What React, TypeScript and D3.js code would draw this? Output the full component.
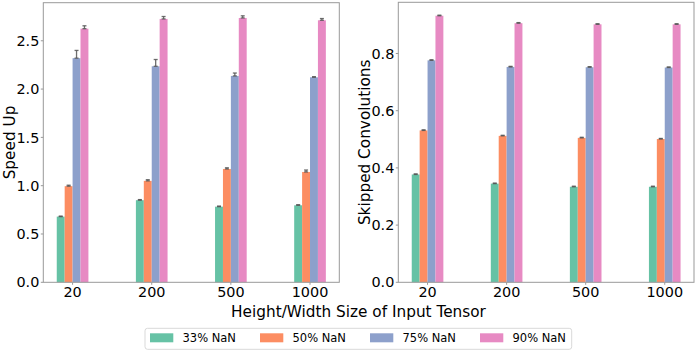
import React from "react";
import * as d3 from "d3";

const categories = ["20", "200", "500", "1000"];
const seriesNames = ["33% NaN", "50% NaN", "75% NaN", "90% NaN"];
const colors = ["#66c2a5", "#fc8d62", "#8da0cb", "#e78ac3"];

const speedUp = [
  [0.68, 0.85, 0.783, 0.797],
  [0.995, 1.05, 1.173, 1.142],
  [2.32, 2.236, 2.136, 2.122],
  [2.625, 2.726, 2.736, 2.712],
];
const speedUpErr = [
  [0.005, 0.006, 0.006, 0.006],
  [0.01, 0.012, 0.012, 0.02],
  [0.08, 0.07, 0.03, 0.006],
  [0.03, 0.025, 0.022, 0.018],
];
const skipped = [
  [0.377, 0.345, 0.334, 0.334],
  [0.531, 0.512, 0.505, 0.501],
  [0.776, 0.753, 0.752, 0.751],
  [0.932, 0.906, 0.902, 0.902],
];
const skippedErr = [
  [0.002, 0.002, 0.002, 0.002],
  [0.002, 0.002, 0.002, 0.002],
  [0.002, 0.002, 0.002, 0.002],
  [0.002, 0.002, 0.002, 0.002],
];
const speedTicks = [0, 0.5, 1.0, 1.5, 2.0, 2.5];
const skipTicks = [0, 0.2, 0.4, 0.6, 0.8];

const FONT = "DejaVu Sans, sans-serif";
const SPINE = "#999999";

type PanelProps = {
  x0: number; x1: number; y0: number; y1: number;
  ymax: number; values: number[][]; errs: number[][]; ticks: number[];
  label: string; labelX: number;
};

function Panel({ x0, x1, y0, y1, ymax, values, errs, ticks, label, labelX }: PanelProps) {
  const x = d3.scaleLinear().domain([-0.37, 3.37]).range([x0, x1]);
  const y = d3.scaleLinear().domain([0, ymax]).range([y1, y0]);
  const bw = 0.1;
  const offsets = [-0.15, -0.05, 0.05, 0.15];
  const fmt = d3.format(".1f");
  return (
    <g>
      {values.map((ser, si) =>
        ser.map((v, ci) => {
          const cx = ci + offsets[si];
          return (
            <rect key={`b${si}-${ci}`} x={x(cx - bw / 2)} width={x(cx + bw / 2) - x(cx - bw / 2)}
              y={y(v)} height={y(0) - y(v)} fill={colors[si]} />
          );
        })
      )}
      {values.map((ser, si) =>
        ser.map((v, ci) => {
          const cx = x(ci + offsets[si]);
          const top = y(v + errs[si][ci]);
          const bot = y(v);
          return (
            <g key={`e${si}-${ci}`} stroke="#555" strokeOpacity={0.85} strokeWidth={1.3}>
              <line x1={cx} x2={cx} y1={top} y2={bot} />
              <line x1={cx - 2} x2={cx + 2} y1={top} y2={top} />
              <line x1={cx - 2} x2={cx + 2} y1={bot} y2={bot} />
            </g>
          );
        })
      )}
      <rect x={x0} y={y0} width={x1 - x0} height={y1 - y0} fill="none" stroke={SPINE} strokeWidth={1} />
      {ticks.map((t) => (
        <g key={`yt${t}`}>
          <line x1={x0 - 2.5} x2={x0} y1={y(t)} y2={y(t)} stroke={SPINE} />
          <text x={x0 - 4} y={y(t)} dy="0.36em" textAnchor="end" fontSize={14.4} fontFamily={FONT} fill="#000">
            {fmt(t)}
          </text>
        </g>
      ))}
      {categories.map((c, ci) => (
        <g key={`xt${c}`}>
          <line x1={x(ci)} x2={x(ci)} y1={y1} y2={y1 + 2.5} stroke={SPINE} />
          <text x={x(ci)} y={y1 + 14.3} textAnchor="middle" fontSize={14.4} fontFamily={FONT} fill="#000">
            {c}
          </text>
        </g>
      ))}
      <text transform={`translate(${labelX},${(y0 + y1) / 2}) rotate(-90)`} textAnchor="middle"
        fontSize={15.3} fontFamily={FONT} fill="#000">
        {label}
      </text>
    </g>
  );
}

export default function App() {
  const legendX0 = 150;
  const legendStep = 110;
  return (
    <svg width={697} height={352} style={{ position: "absolute", left: 0, top: 0, background: "#fff" }}>
      <rect x={0} y={0} width={697} height={352} fill="#fff" />
      <Panel x0={43.3} x1={339.3} y0={2.7} y1={282.3} ymax={2.894} values={speedUp} errs={speedUpErr}
        ticks={speedTicks} label="Speed Up" labelX={15} />
      <Panel x0={398.3} x1={694} y0={2.3} y1={282.3} ymax={0.979} values={skipped} errs={skippedErr}
        ticks={skipTicks} label="Skipped Convolutions" labelX={370} />
      <text x={358.5} y={316.5} textAnchor="middle" fontSize={15.3} fontFamily={FONT} fill="#000">
        Height/Width Size of Input Tensor
      </text>
      <rect x={145} y={328.3} width={426.7} height={21} rx={2.5} fill="#fff" stroke="#d9d9d9" strokeWidth={1} />
      {seriesNames.map((n, i) => (
        <g key={n}>
          <rect x={legendX0 + i * legendStep} y={333.3} width={23.3} height={9} fill={colors[i]} />
          <text x={legendX0 + i * legendStep + 32.5} y={341.8} fontSize={11.5} fontFamily={FONT} fill="#000">
            {n}
          </text>
        </g>
      ))}
    </svg>
  );
}
